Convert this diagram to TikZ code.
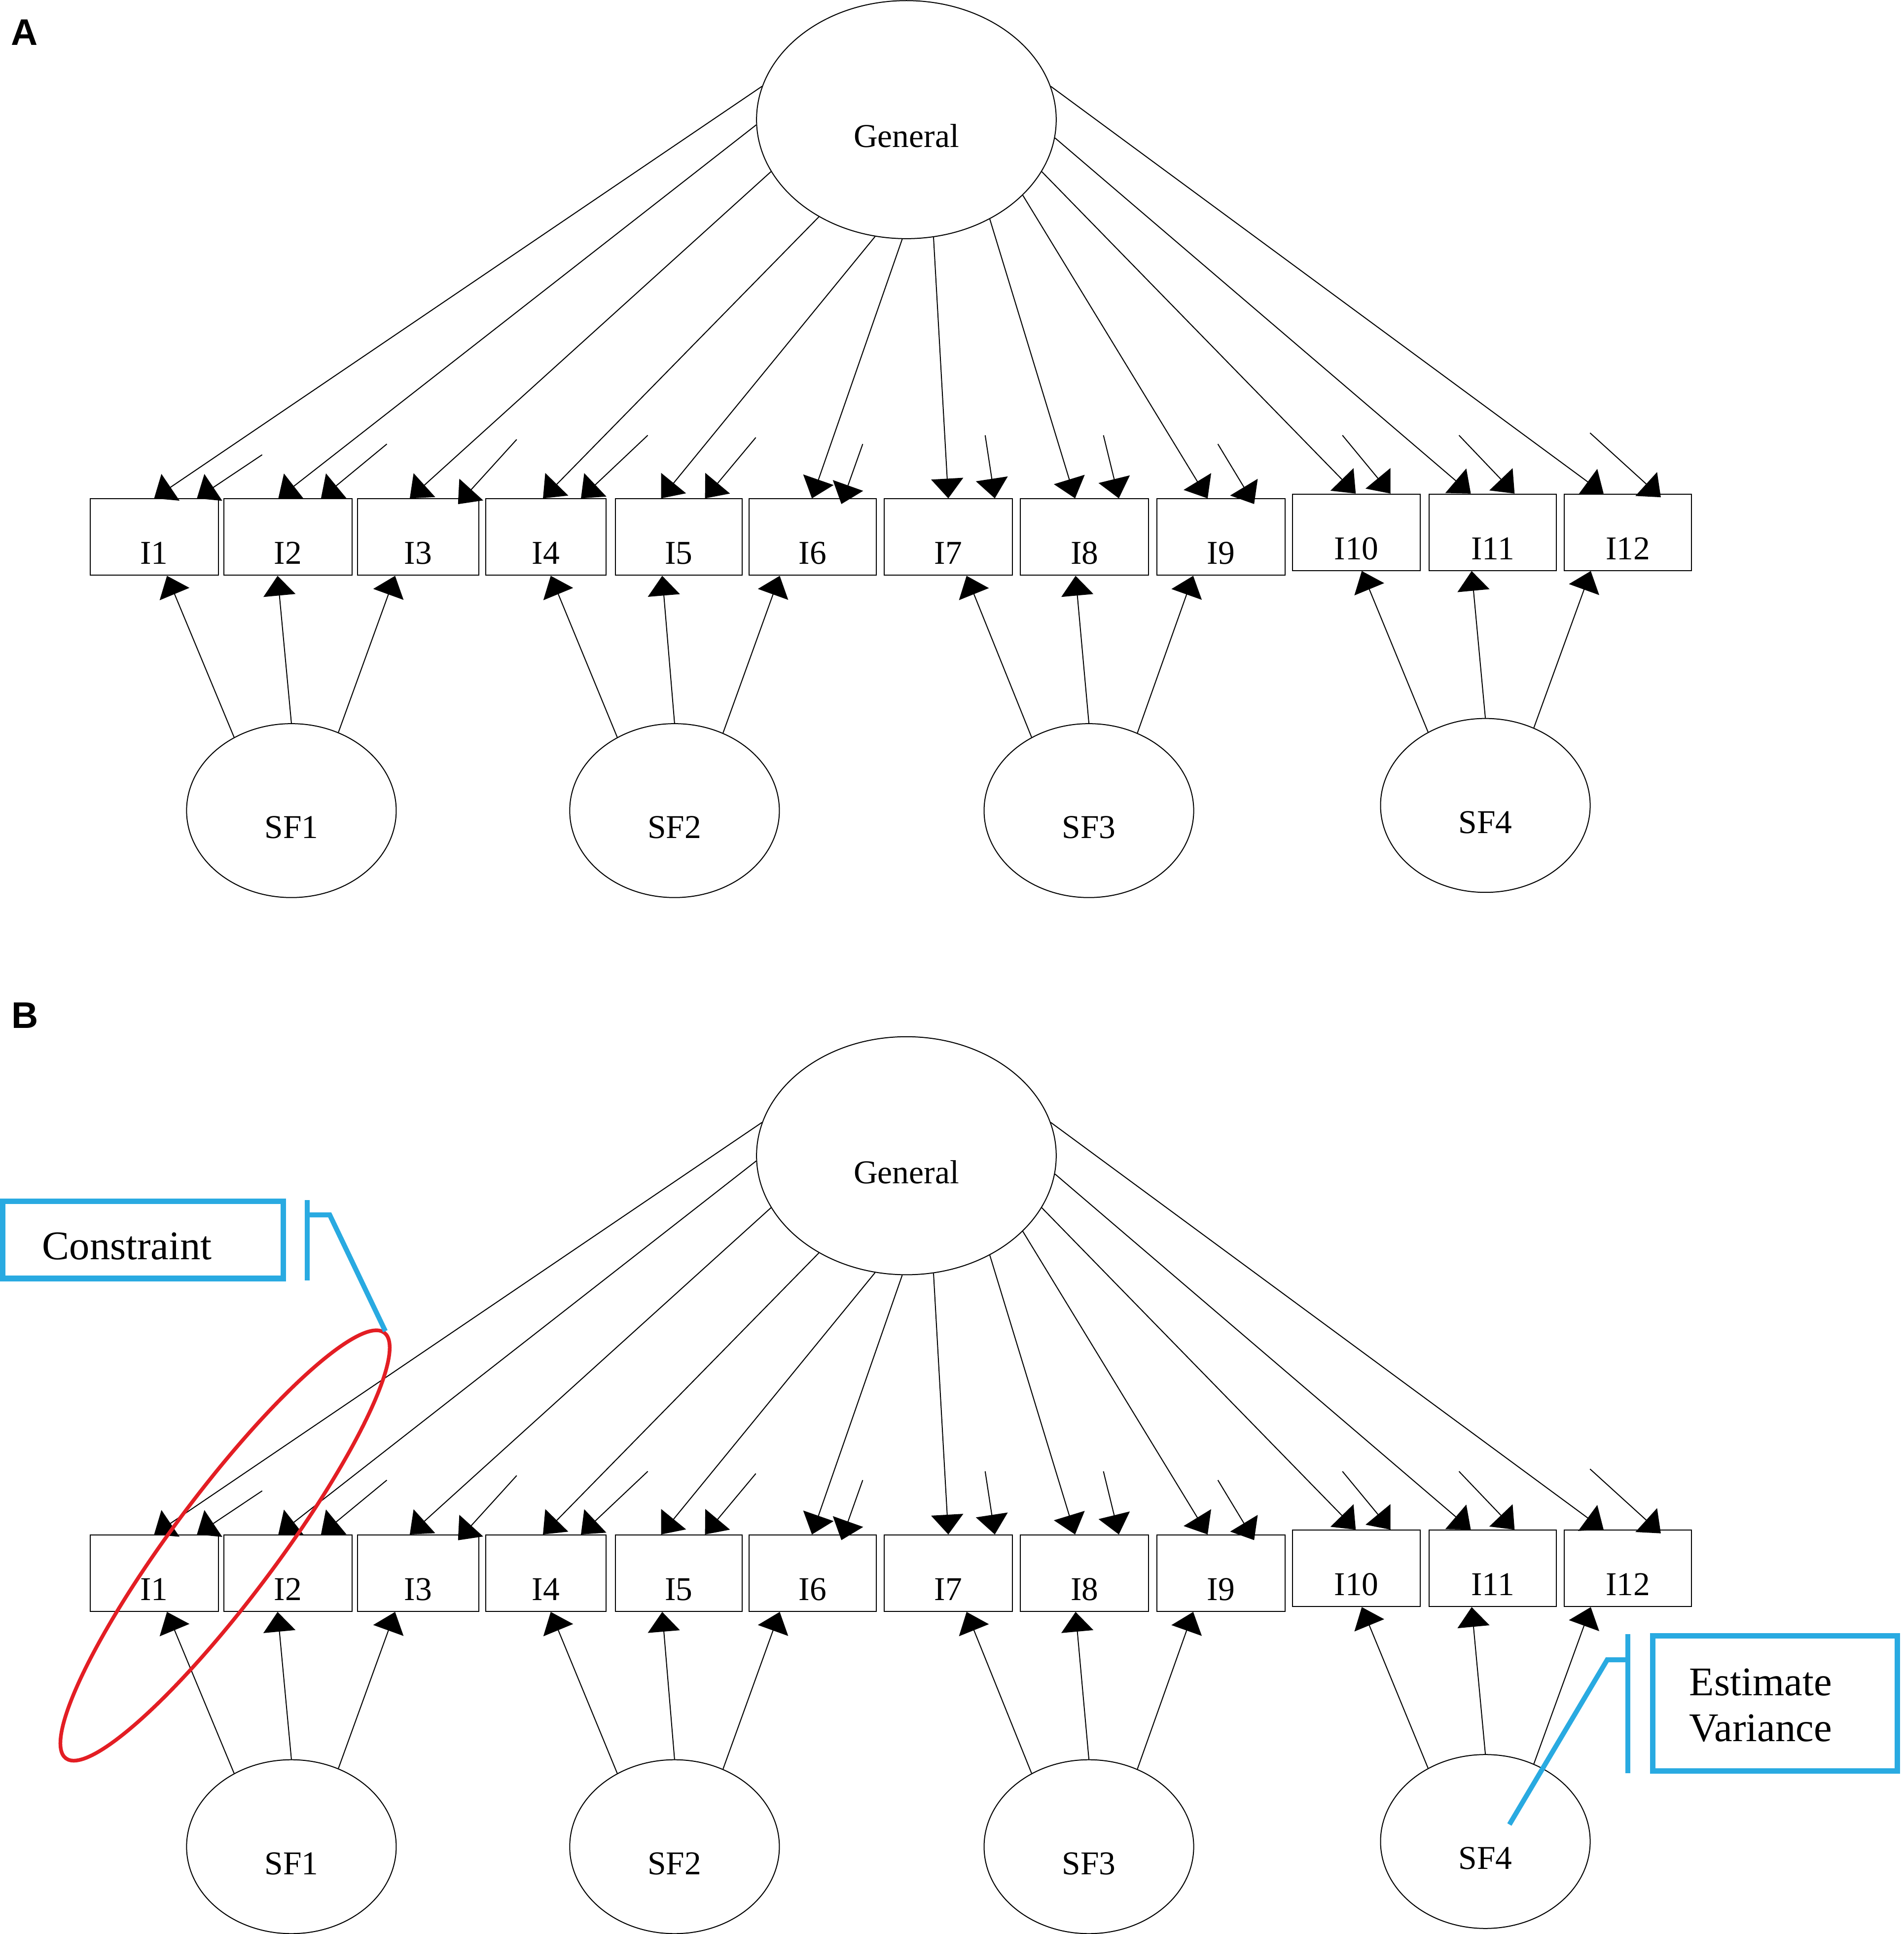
\documentclass[tikz,border=0pt]{standalone}
\usepackage{fontspec}
\setmainfont{Liberation Serif}
\newfontfamily\panelfont{Liberation Sans}
\usetikzlibrary{shapes.geometric,arrows.meta}

\definecolor{noteblue}{RGB}{41,170,225}
\definecolor{notered}{RGB}{227,30,36}

\tikzset{
  item/.style={draw, rectangle, line width=0.8pt, minimum width=104pt, minimum height=62pt,
    inner sep=0pt, text height=53pt, text depth=9pt, font=\fontsize{27}{32}\selectfont},
  latent/.style={draw, ellipse, line width=0.8pt, inner sep=0pt, text height=55pt, text depth=10pt,
    font=\fontsize{27}{32}\selectfont},
  load/.style={line width=0.8pt, ->, >={Triangle[length=16pt,width=26pt]}},
  note/.style={draw=noteblue, line width=4.5pt, rectangle, inner ysep=0pt, align=left,
    font=\fontsize{33}{37.2}\selectfont},
  callout/.style={noteblue, line width=4pt},
  panel/.style={font=\panelfont\bfseries\fontsize{30}{36}\selectfont, inner sep=0pt}
}

\begin{document}
\begin{tikzpicture}[x=1pt, y=-1pt]
  \useasboundingbox[fill=white] (0,0) rectangle (1544,1568);

  \node[panel] (labA) at (19.8,26.2) {A};
  \node[panel] (labB) at (20.3,823.4) {B};

  \foreach \p/\oy in {A/0, B/840}{
    \begin{scope}[yshift=-\oy pt]
      % latent factors
      \node[latent, minimum width=243pt, minimum height=193pt] (\p-G) at (735,97) {General};
      \foreach \s/\x/\y in {1/236.3/657.2, 2/547/657.2, 3/883/657.2, 4/1204.5/653}
        \node[latent, minimum width=170pt, minimum height=141pt] (\p-SF\s) at (\x,\y) {SF\s};
      % items
      \foreach \n/\x/\y/\w in {1/125/435.45/104, 2/233.5/435.45/104, 3/339/435.45/98.5,
          4/442.7/435.45/97.6, 5/550.5/435.45/103, 6/659/435.45/103.2, 7/769/435.45/104,
          8/879.5/435.45/104, 9/990/435.45/104, 10/1100/431.55/103.6, 11/1210.5/431.55/103,
          12/1320.2/431.55/103.2}
        \node[item, minimum width=\w pt] (\p-I\n) at (\x,\y) {I\n};
      % general loadings
      \foreach \n/\a/\dx in {1/167/0, 2/182/-7.8, 3/201/-6.7, 4/228/-2.4, 5/255/-14.4, 6/268/-0.6,
          7/283/0, 8/310/-7.7, 9/327/-10.7, 10/339/-0.6, 11/353/-17.8, 12/13/-19.8}
        \draw[load] (\p-G.\a) -- ([xshift=\dx pt]\p-I\n.north);
      % error terms
      \foreach \n/\ex/\ey/\dx/\dy in {1/212.6/368.7/34.7/0, 2/313.7/360/26.8/0, 3/419/356.3/32.4/-4.7,
          4/525.3/352.9/28.4/0, 5/612.9/354.7/21.2/0, 6/699.6/360/23.3/-4.6, 7/798.9/352.9/37.7/0,
          8/894.8/352.9/27.8/0, 9/987.6/360/27/-4.6, 10/1088.6/352.9/27.6/0, 11/1183.1/352.9/17.7/0,
          12/1289.4/351/26.6/-3}{
        \coordinate (\p-e\n) at (\ex,\ey);
        \draw[load] (\p-e\n) -- ([xshift=\dx pt,yshift=\dy pt]\p-I\n.north);
      }
      % specific loadings
      \foreach \s/\n/\a/\dx in {1/1/128/10.4, 1/2/90/-8.4, 1/3/59/-18.6, 2/4/128/3.9, 2/5/90/-13.5,
          2/6/58/-26.7, 3/7/128/14.8, 3/8/90/-7.3, 3/9/58/-22.4, 4/10/128/4.3, 4/11/90/-17.1,
          4/12/58/-30.2}
        \draw[load] (\p-SF\s.\a) -- ([xshift=\dx pt]\p-I\n.south);
    \end{scope}
  }

  % annotations of panel B
  \node[draw=notered, line width=3pt, ellipse, inner sep=0pt, minimum width=431pt,
    minimum height=85pt, rotate=53.2] (cons) at (182.5,1253) {};
  \node[note, minimum width=227.4pt, inner xsep=32pt, text width=163.4pt,
    text height=47.2pt, text depth=15.5pt] (constraint) at (116,1005.15) {Constraint};
  \coordinate (cbtop) at (249,973);
  \coordinate (cbbot) at (249,1038);
  \coordinate (ck) at (249,985);
  \draw[callout] (cbtop) -- (cbbot);
  \draw[callout] (ck) -- ++(18.4,0) -- (cons.east);

  \node[note, minimum width=198.4pt, inner xsep=29.7pt, text width=139pt,
    text height=48.4pt, text depth=61pt] (estvar) at (1439.5,1381) {Estimate\\Variance};
  \coordinate (vtop) at (1320,1324.7);
  \coordinate (vbot) at (1320,1437.8);
  \coordinate (vk) at (1320,1345.7);
  \draw[callout] (vtop) -- (vbot);
  \draw[callout] (vk) -- ++(-16.7,0) -- ([shift={(19.5,-13.8)}]B-SF4.center);
\end{tikzpicture}
\end{document}
